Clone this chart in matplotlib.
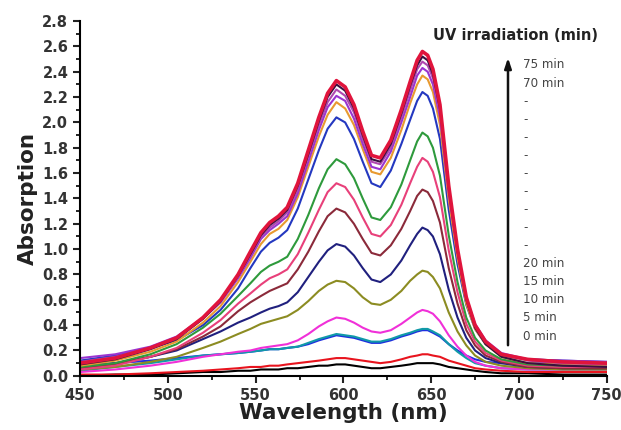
import numpy as np
import matplotlib
matplotlib.use("Agg")
import matplotlib.pyplot as plt
from matplotlib.ticker import MultipleLocator, FormatStrFormatter

# wavelength grid (nm)
wl = [450, 470, 490, 505,
      520, 530, 540, 547, 553, 558, 563, 568, 574, 580, 586, 591, 596, 601, 606, 611,
      616, 621, 627, 633, 638, 642, 645, 648, 651, 655, 660, 665, 670, 675, 681, 690,
      705, 725, 750]

# absorption spectra, one list per irradiation time (min)
a0 = [.00, .01, .01, .02,
      .03, .03, .04, .04, .05, .05, .05, .06, .06, .07, .08, .08, .09, .09, .08, .07,
      .06, .06, .07, .08, .09, .10, .10, .10, .10, .09, .07, .06, .05, .04, .03, .02,
      .02, .01, .01]
a5 = [.01, .01, .02, .03,
      .04, .05, .06, .07, .07, .08, .08, .09, .10, .11, .12, .13, .14, .14, .13, .12,
      .11, .10, .11, .13, .15, .16, .17, .17, .16, .15, .12, .10, .08, .06, .05, .04,
      .03, .03, .03]
a10 = [.08, .10, .12, .14,
       .16, .17, .18, .19, .20, .21, .21, .22, .23, .25, .28, .30, .32, .31, .30, .28,
       .26, .26, .28, .31, .33, .35, .36, .36, .34, .31, .25, .20, .16, .13, .11, .10,
       .10, .10, .10]
a15 = [.04, .07, .10, .13,
       .16, .17, .18, .19, .20, .21, .21, .22, .23, .26, .29, .31, .33, .32, .31, .29,
       .27, .27, .29, .32, .34, .36, .37, .37, .35, .32, .25, .19, .14, .10, .08, .06,
       .05, .05, .05]
a20 = [.03, .05, .08, .11,
       .15, .17, .19, .20, .22, .23, .24, .25, .28, .33, .39, .43, .46, .45, .42, .38,
       .35, .34, .36, .41, .46, .50, .52, .51, .49, .43, .32, .23, .16, .11, .08, .06,
       .05, .05, .05]
a25 = [.05, .07, .11, .15,
       .22, .27, .33, .37, .41, .43, .45, .47, .52, .59, .67, .72, .75, .74, .69, .62,
       .57, .56, .60, .67, .75, .80, .83, .82, .78, .69, .50, .35, .24, .16, .11, .08,
       .06, .05, .05]
a30 = [.07, .10, .15, .20,
       .29, .35, .42, .46, .50, .53, .55, .58, .66, .78, .90, .99, 1.04, 1.02, .95, .85,
       .76, .74, .80, .91, 1.03, 1.12, 1.17, 1.15, 1.10, .96, .68, .46, .30, .20, .14, .10,
       .07, .06, .06]
a35 = [.06, .09, .15, .21,
       .31, .39, .51, .58, .63, .67, .70, .73, .84, .98, 1.14, 1.26, 1.32, 1.29, 1.20, 1.08,
       .97, .95, 1.03, 1.16, 1.30, 1.42, 1.47, 1.45, 1.38, 1.21, .85, .57, .36, .24, .16, .11,
       .07, .06, .06]
a40 = [.05, .08, .15, .22,
       .34, .44, .57, .65, .72, .77, .80, .84, .96, 1.13, 1.31, 1.45, 1.52, 1.49, 1.39, 1.25,
       1.12, 1.10, 1.19, 1.35, 1.52, 1.65, 1.72, 1.69, 1.61, 1.41, .99, .66, .41, .27, .18, .12,
       .08, .07, .07]
a45 = [.07, .10, .17, .25,
       .38, .49, .63, .73, .82, .87, .90, .94, 1.08, 1.27, 1.48, 1.63, 1.71, 1.67, 1.56, 1.40,
       1.25, 1.23, 1.33, 1.51, 1.70, 1.85, 1.92, 1.89, 1.80, 1.58, 1.11, .74, .46, .30, .20, .13,
       .09, .08, .08]
a50 = [.12, .16, .22, .28,
       .40, .52, .69, .85, .98, 1.05, 1.09, 1.15, 1.32, 1.55, 1.78, 1.95, 2.04, 2.00, 1.87, 1.69,
       1.52, 1.49, 1.62, 1.83, 2.02, 2.17, 2.24, 2.21, 2.11, 1.87, 1.31, .88, .56, .37, .25, .16,
       .13, .12, .11]
a55 = [.08, .12, .19, .27,
       .42, .55, .74, .90, 1.04, 1.12, 1.16, 1.23, 1.41, 1.65, 1.89, 2.06, 2.16, 2.11, 1.98, 1.79,
       1.61, 1.59, 1.72, 1.94, 2.15, 2.30, 2.37, 2.34, 2.24, 1.98, 1.39, .93, .57, .37, .25, .15,
       .10, .09, .08]
a60 = [.14, .17, .23, .31,
       .46, .58, .77, .93, 1.08, 1.15, 1.20, 1.26, 1.44, 1.69, 1.94, 2.12, 2.21, 2.17, 2.03, 1.83,
       1.65, 1.63, 1.77, 2.00, 2.20, 2.37, 2.43, 2.40, 2.30, 2.04, 1.44, .98, .62, .41, .28, .18,
       .13, .12, .11]
a65 = [.11, .15, .22, .30,
       .45, .58, .78, .95, 1.10, 1.17, 1.22, 1.29, 1.47, 1.73, 1.98, 2.16, 2.26, 2.21, 2.08, 1.87,
       1.69, 1.67, 1.80, 2.04, 2.25, 2.42, 2.48, 2.45, 2.35, 2.08, 1.46, .98, .61, .40, .27, .17,
       .12, .10, .09]
a70 = [.09, .13, .21, .29,
       .45, .59, .79, .96, 1.11, 1.19, 1.24, 1.31, 1.50, 1.75, 2.01, 2.20, 2.30, 2.25, 2.11, 1.90,
       1.71, 1.69, 1.83, 2.07, 2.29, 2.45, 2.52, 2.49, 2.38, 2.11, 1.48, .98, .60, .38, .25, .15,
       .10, .08, .07]
a75 = [.10, .14, .22, .30,
       .46, .60, .80, .98, 1.13, 1.21, 1.26, 1.33, 1.52, 1.78, 2.04, 2.23, 2.33, 2.28, 2.14, 1.93,
       1.74, 1.72, 1.86, 2.10, 2.32, 2.49, 2.56, 2.53, 2.42, 2.14, 1.50, 1.00, .62, .40, .27, .17,
       .13, .11, .10]

spectra = [a0, a5, a10, a15, a20, a25, a30, a35, a40, a45, a50, a55, a60, a65, a70, a75]
colors = ["#000000", "#e8141e", "#1f2ee0", "#119aa8", "#f030d8", "#8c8c22",
          "#20207e", "#8b2a3a", "#e8407a", "#2e9a3c", "#2438c0", "#e89a30",
          "#9a34d0", "#b048b0", "#3a1040", "#e0143c"]
widths = [1.5] * 15 + [2.6]

time_labels = ["0 min", "5 min", "10 min", "15 min", "20 min"] + ["-"] * 9 + ["70 min", "75 min"]

fig = plt.figure(figsize=(6.21, 4.30), dpi=100)
ax = fig.add_axes([0.129, 0.126, 0.848, 0.825])

for spec, c, lw in zip(spectra, colors, widths):
    ax.plot(wl, spec, color=c, lw=lw, solid_joinstyle="round")

ax.set_xlim(450, 750)
ax.set_ylim(0, 2.8)
ax.xaxis.set_major_locator(MultipleLocator(50))
ax.xaxis.set_minor_locator(MultipleLocator(25))
ax.yaxis.set_major_locator(MultipleLocator(0.2))
ax.yaxis.set_minor_locator(MultipleLocator(0.1))
ax.yaxis.set_major_formatter(FormatStrFormatter("%.1f"))

for s in ["top", "right"]:
    ax.spines[s].set_visible(False)
for s in ["left", "bottom"]:
    ax.spines[s].set_linewidth(1.5)

ax.tick_params(which="major", direction="out", length=5, width=1.5,
               labelsize=10.5, colors="#222222")
ax.tick_params(which="minor", direction="out", length=3, width=1.2)
for lab in ax.get_xticklabels() + ax.get_yticklabels():
    lab.set_fontweight("bold")
    lab.set_color("#333333")

ax.set_xlabel("Wavelength (nm)", fontsize=15.5, fontweight="bold", color="#222222", labelpad=0)
ax.set_ylabel("Absorption", fontsize=15.5, fontweight="bold", color="#222222", labelpad=3)

# irradiation arrow and labels
fig.text(433 / 621, 1 - 36 / 430, "UV irradiation (min)", fontsize=10.5,
         fontweight="bold", color="#222222", va="center")
ax.annotate("", xy=(508 / 621, 1 - 55 / 430), xytext=(508 / 621, 1 - 348 / 430),
            xycoords="figure fraction", textcoords="figure fraction",
            arrowprops=dict(arrowstyle="-|>,head_length=0.6,head_width=0.2",
                            color="#111111", lw=1.8))
for i, lab in enumerate(time_labels):
    y = 336 - i * 18.07
    fig.text(523 / 621, 1 - y / 430, lab, fontsize=8.6, color="#444444", va="center")

fig.savefig("out.png", dpi=100)
